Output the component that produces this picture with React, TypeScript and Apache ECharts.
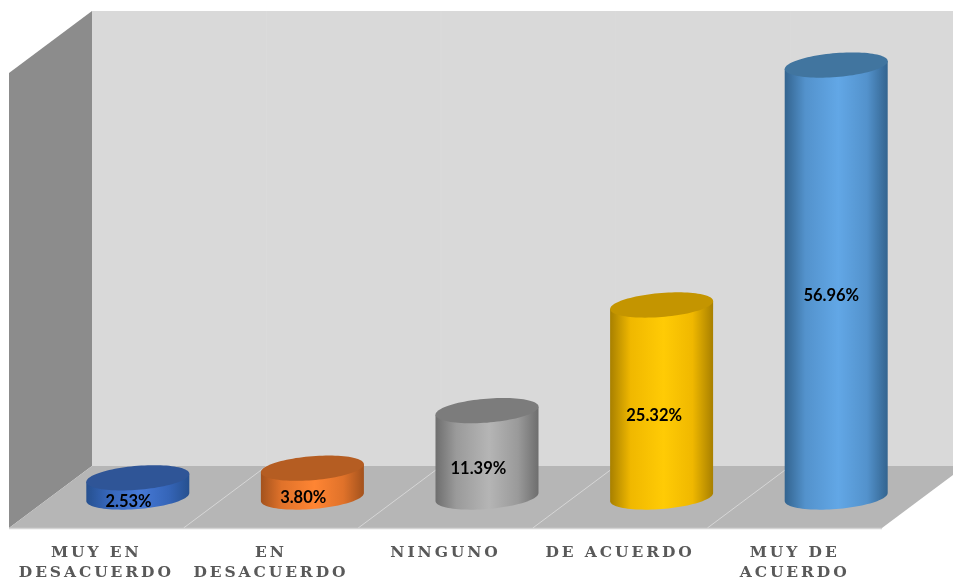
import React, { useEffect, useRef } from "react";
import * as echarts from "echarts";

const categories = ["MUY EN\nDESACUERDO", "EN\nDESACUERDO", "NINGUNO", "DE ACUERDO", "MUY DE\nACUERDO"];
const percentages = [2.53, 3.8, 11.39, 25.32, 56.96];

const topColors = ["#2f5597", "#b55d22", "#7c7c7c", "#c49500", "#41759f"];
const edgeColors = ["#26508f", "#a3521d", "#6e6e6e", "#a88000", "#33648f"];
const sideColors = ["#3565b8", "#e0722a", "#9a9a9a", "#f0b800", "#5392cc"];
const lightColors = ["#4679d6", "#ff8533", "#b5b5b5", "#ffcb05", "#62a7e6"];

const FRONT_LEFT = 9;
const FRONT_RIGHT = 882;
const FRONT_BOTTOM = 528;
const WALL_TOP = 73;
const DEPTH_X = 83;
const DEPTH_Y = 62;

const RX = 51.5;
const RY = 12;
const TILT = 4;

function ellipsePoint(cx: number, cy: number, t: number): number[] {
  return [cx + RX * Math.cos(t), cy + RY * Math.sin(t) - TILT * Math.cos(t)];
}

function renderCylinder(params: any, api: any) {
  const idx = params.dataIndex;
  const value = api.value(1);
  const front = api.coord([api.value(0), value]);
  const base = api.coord([api.value(0), 0]);
  const mid = api.coord([api.value(0), value / 2]);
  const cx = base[0] + DEPTH_X / 2;
  const yBottom = base[1] - DEPTH_Y / 2;
  const yTop = front[1] - DEPTH_Y / 2;

  const steps = 48;
  const bottomArc: number[][] = [];
  const topFull: number[][] = [];
  for (let i = 0; i <= steps; i++) {
    bottomArc.push(ellipsePoint(cx, yBottom, (Math.PI * i) / steps));
  }
  for (let i = 0; i < steps * 2; i++) {
    topFull.push(ellipsePoint(cx, yTop, (Math.PI * i) / steps));
  }
  const rightTop = ellipsePoint(cx, yTop, 0);
  const leftTop = ellipsePoint(cx, yTop, Math.PI);
  const body = [rightTop, ...bottomArc, leftTop];

  const fill = new echarts.graphic.LinearGradient(0, 0, 1, 0, [
    { offset: 0, color: edgeColors[idx] },
    { offset: 0.2, color: sideColors[idx] },
    { offset: 0.52, color: lightColors[idx] },
    { offset: 0.8, color: sideColors[idx] },
    { offset: 1, color: edgeColors[idx] },
  ]);

  return {
    type: "group",
    children: [
      { type: "polygon", shape: { points: body }, style: { fill } },
      { type: "polygon", shape: { points: topFull }, style: { fill: topColors[idx] } },
      {
        type: "text",
        style: {
          text: value.toFixed(2) + "%",
          x: mid[0] + 32 + value * 0.08,
          y: mid[1] - 17,
          align: "center",
          verticalAlign: "middle",
          font: "bold 16.5px Lato",
          fill: "#000000",
        },
      },
    ],
  };
}

const floorLines = [1, 2, 3, 4].map((k) => FRONT_LEFT + ((FRONT_RIGHT - FRONT_LEFT) * k) / 5);

export default function App() {
  const ref = useRef<HTMLDivElement>(null);
  useEffect(() => {
    document.body.style.margin = "0";
    const chart = echarts.init(ref.current as HTMLDivElement, undefined, { renderer: "svg" });
    const bottomBack = FRONT_BOTTOM - DEPTH_Y;
    const topBack = WALL_TOP - DEPTH_Y;
    chart.setOption({
      animation: false,
      backgroundColor: "#ffffff",
      graphic: [
        {
          type: "polygon",
          z: 0,
          shape: { points: [[FRONT_LEFT + DEPTH_X, topBack], [FRONT_RIGHT + DEPTH_X, topBack], [FRONT_RIGHT + DEPTH_X, bottomBack], [FRONT_LEFT + DEPTH_X, bottomBack]] },
          style: { fill: "#d9d9d9" },
        },
        {
          type: "polygon",
          z: 0,
          shape: { points: [[FRONT_LEFT, WALL_TOP], [FRONT_LEFT + DEPTH_X, topBack], [FRONT_LEFT + DEPTH_X, bottomBack], [FRONT_LEFT, FRONT_BOTTOM]] },
          style: { fill: "#8c8c8c" },
        },
        {
          type: "polygon",
          z: 0,
          shape: { points: [[FRONT_LEFT + DEPTH_X, bottomBack], [FRONT_RIGHT + DEPTH_X, bottomBack], [FRONT_RIGHT, FRONT_BOTTOM], [FRONT_LEFT, FRONT_BOTTOM]] },
          style: { fill: "#b6b6b6" },
        },
        {
          type: "line",
          z: 0,
          shape: { x1: FRONT_LEFT, y1: FRONT_BOTTOM + 0.5, x2: FRONT_RIGHT, y2: FRONT_BOTTOM + 0.5 },
          style: { stroke: "#d4d4d4", lineWidth: 1.5 },
        },
        ...floorLines.flatMap((x) => [
          {
            type: "line",
            z: 0,
            shape: { x1: x, y1: FRONT_BOTTOM, x2: x + DEPTH_X, y2: bottomBack },
            style: { stroke: "#d6d6d6", lineWidth: 1 },
          },
          {
            type: "line",
            z: 0,
            shape: { x1: x + DEPTH_X, y1: bottomBack, x2: x + DEPTH_X, y2: topBack },
            style: { stroke: "#dbdbdb", lineWidth: 1 },
          },
        ]),
      ],
      grid: {
        left: FRONT_LEFT,
        right: 953 - FRONT_RIGHT,
        top: WALL_TOP,
        bottom: 582 - FRONT_BOTTOM,
      },
      xAxis: {
        type: "category",
        data: categories,
        axisLine: { show: false },
        axisTick: { show: false },
        splitLine: { show: false },
        axisLabel: {
          interval: 0,
          margin: 13,
          color: "#595959",
          fontFamily: "DejaVu Serif",
          fontWeight: "bold",
          fontSize: 15.5,
          lineHeight: 20.5,
          align: "center",
        },
      },
      yAxis: { type: "value", min: 0, max: 60, interval: 10, show: false },
      series: [
        {
          type: "custom",
          renderItem: renderCylinder,
          clip: false,
          data: percentages.map((v, i) => [i, v]),
          encode: { x: 0, y: 1 },
          z: 3,
        },
      ],
    });
    return () => chart.dispose();
  }, []);
  return (
    <>
      <style>{`#cyl-chart svg text[style*="DejaVu Serif"] { letter-spacing: 2.9px; }`}</style>
      <div
        id="cyl-chart"
        ref={ref}
        style={{ position: "absolute", left: 0, top: 0, width: 953, height: 582, filter: "blur(0.4px)" }}
      />
    </>
  );
}
